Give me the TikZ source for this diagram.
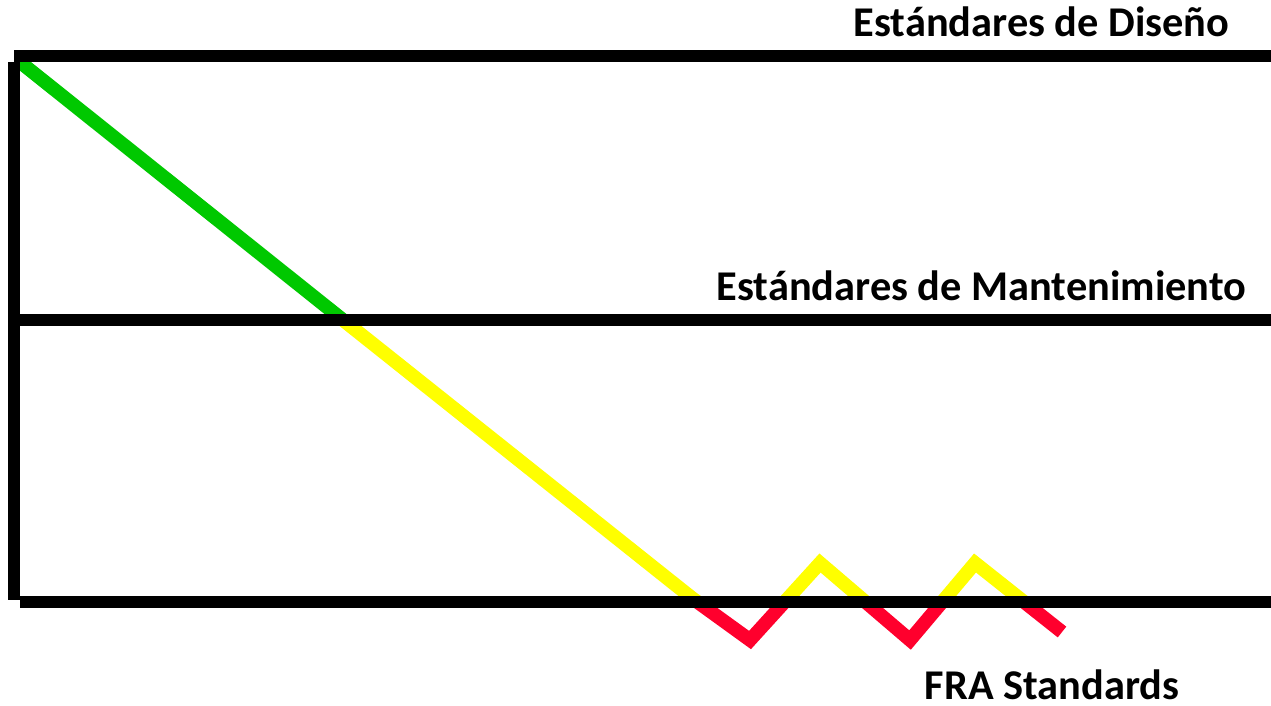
\documentclass[tikz,border=0pt]{standalone}
\usepackage{fontspec}
\setmainfont{Carlito}
\definecolor{levelgreen}{RGB}{0,200,0}
\definecolor{levelyellow}{RGB}{255,255,0}
\definecolor{levelred}{RGB}{255,0,45}
\tikzset{
	levelstyle/.style={draw=black,line width=3.15pt},
	trackstyle/.style={line width=3.9pt,line join=miter},
	labelstyle/.style={font=\bfseries\fontsize{12.05}{14}\selectfont,inner sep=0pt,anchor=base west}
}
\begin{document}
\begin{tikzpicture}[x=0.01cm,y=-0.01cm]
		\useasboundingbox (0,0) rectangle (1271,705);
		% corners of the frame
		\coordinate (tl) at (14,56);
		\coordinate (tr) at (1271,56);
		\coordinate (ml) at (20,320);
		\coordinate (mr) at (1271,320);
		\coordinate (bl) at (20,602);
		\coordinate (br) at (1271,602);
		\coordinate (lt) at (14,62);
		\coordinate (lb) at (14,600);
		% track points
		\coordinate (t0) at (20,62);
		\coordinate (t1) at (343,320);
		\coordinate (t2) at (692,598);
		\coordinate (t3) at (750,640);
		\coordinate (t4) at (820,563);
		\coordinate (t5) at (910,640);
		\coordinate (t6) at (975,563);
		\coordinate (t7) at (1062,632);
		\draw[trackstyle,levelgreen] (t0)--(t1);
		\begin{scope}
			\clip (0,320) rectangle (1271,602);
			\draw[trackstyle,levelyellow] (t1)--(t2)--(t3)--(t4)--(t5)--(t6)--(t7);
		\end{scope}
		\begin{scope}
			\clip (0,602) rectangle (1271,705);
			\draw[trackstyle,levelred] (t1)--(t2)--(t3)--(t4)--(t5)--(t6)--(t7);
		\end{scope}
		\draw[levelstyle] (tl)--(tr);
		\draw[levelstyle] (ml)--(mr);
		\draw[levelstyle] (bl)--(br);
		\draw[levelstyle] (lt)--(lb);
		\node[labelstyle] (design) at (853,36) {Estándares de Diseño};
		\node[labelstyle] (maint) at (716,300) {Estándares de Mantenimiento};
		\node[labelstyle] (fra) at (924,699) {FRA Standards};
		\end{tikzpicture}
\end{document}
